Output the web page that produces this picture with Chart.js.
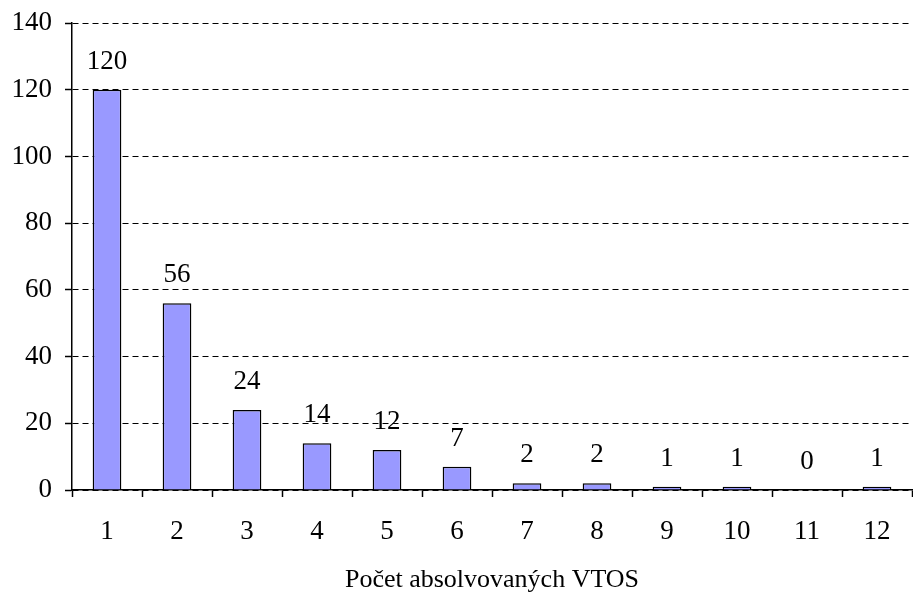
<!DOCTYPE html>
<html>
<head>
<meta charset="utf-8">
<script src="https://cdn.jsdelivr.net/npm/chart.js@4/dist/chart.umd.min.js"></script>
<style>
html,body{margin:0;padding:0;background:#fff;}
#wrap{position:relative;width:913px;height:593px;}
</style>
</head>
<body>
<div id="wrap"><canvas id="c" width="913" height="593"></canvas></div>
<script>
const categories = ["1","2","3","4","5","6","7","8","9","10","11","12"];
const values = [120, 56, 24, 14, 12, 7, 2, 2, 1, 1, 0, 1];
const yTicks = [0, 20, 40, 60, 80, 100, 120, 140];
const xTitle = "Počet absolvovaných VTOS";

const FONT = "'Liberation Serif','Times New Roman',serif";

const labelPlugin = {
  id: 'barLabels',
  afterDatasetsDraw(chart) {
    const ctx = chart.ctx;
    const meta = chart.getDatasetMeta(0);
    ctx.save();
    ctx.font = "27px " + FONT;
    ctx.fillStyle = "#000";
    ctx.textAlign = "center";
    ctx.textBaseline = "alphabetic";
    meta.data.forEach((bar, i) => {
      ctx.fillText(String(values[i]), bar.x, bar.y - 21);
    });
    ctx.restore();
  }
};

new Chart(document.getElementById('c'), {
  type: 'bar',
  data: {
    labels: categories,
    datasets: [{
      data: values,
      backgroundColor: '#9999FF',
      borderColor: '#000000',
      borderWidth: 1.5,
      barPercentage: 0.41,
      categoryPercentage: 1
    }]
  },
  options: {
    responsive: false,
    animation: false,
    devicePixelRatio: 1,
    layout: { padding: { top: 23, right: 1, bottom: 0, left: 0 } },
    plugins: { legend: { display: false }, tooltip: { enabled: false } },
    scales: {
      x: {
        offset: true,
        grid: { display: true, offset: true, drawOnChartArea: false, drawTicks: true, tickLength: 7, tickColor: '#000', tickWidth: 1.5 },
        border: { display: true, color: '#000', width: 1.5 },
        ticks: { color: '#000', font: { family: FONT, size: 27 }, padding: 19, maxRotation: 0, autoSkip: false },
        title: { display: true, text: xTitle, color: '#000', font: { family: FONT, size: 26, lineHeight: 1 }, padding: { top: 0, bottom: 0 } },
        afterFit(scale) { scale.height = 103; scale.paddingLeft = 0; scale.paddingRight = 0; }
      },
      y: {
        min: 0, max: 140,
        afterBuildTicks(scale) { scale.ticks = yTicks.map(v => ({ value: v })); },
        grid: { color: '#000', lineWidth: 1, drawTicks: true, tickLength: 7, tickColor: '#000', tickWidth: 1.5 },
        border: { display: true, color: '#000', width: 1.5, dash: [6, 4] },
        ticks: { color: '#000', font: { family: FONT, size: 27 }, padding: 13 },
        afterFit(scale) { scale.width = 72; scale.paddingTop = 0; scale.paddingBottom = 0; }
      }
    }
  },
  plugins: [labelPlugin]
});
</script>
</body>
</html>
